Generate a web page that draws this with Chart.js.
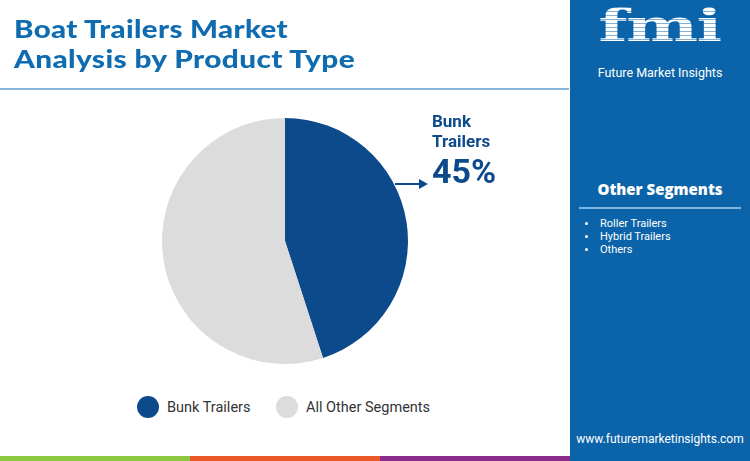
<!DOCTYPE html>
<html>
<head>
<meta charset="utf-8">
<script src="https://cdn.jsdelivr.net/npm/chart.js@4"></script>
<style>
  html,body{margin:0;padding:0;}
  body{width:750px;height:461px;position:relative;overflow:hidden;background:#fff;font-family:Roboto,"Open Sans",sans-serif;}
  .abs{position:absolute;}
  #title{left:14px;top:13px;color:#0f6cb1;font-family:Lato,"Open Sans",sans-serif;font-weight:900;font-size:25px;line-height:30px;white-space:nowrap;}
  #title span{display:block;transform-origin:left center;}
  #rule{left:0;top:88px;width:569px;height:2px;background:#86b5db;}
  #panel{left:570px;top:0;width:180px;height:461px;background:#0b64a9;}
  #chartBox{left:162px;top:118px;width:246px;height:246px;}
  #callout{left:432px;top:111px;color:#0d4a8c;font-weight:700;font-family:Roboto,sans-serif;}
  #callout .nm{font-size:17px;line-height:20px;}
  #callout .pc{font-size:34px;line-height:40px;margin-top:0px;}
  #arrowLine{left:395px;top:183px;width:26px;height:2px;background:#0d4a8c;}
  #arrowHead{left:419px;top:178.5px;width:0;height:0;border-top:5.5px solid transparent;border-bottom:5.5px solid transparent;border-left:9px solid #0d4a8c;}
  .lg{position:absolute;top:396px;height:22px;display:flex;align-items:center;font-size:14.5px;color:#333;font-family:Roboto,sans-serif;white-space:nowrap;}
  .lg .dot{width:22px;height:22px;border-radius:50%;margin-right:8px;}
  #bars div{position:absolute;top:456px;height:5px;}
  #logo{left:570px;top:0;width:180px;height:90px;text-align:center;}
  #fmiWrap{position:absolute;left:0;top:0;width:180px;text-align:center;}
  #fmi{display:inline-block;transform:scaleX(1.55);transform-origin:center;font-family:"DejaVu Serif",serif;font-weight:700;font-size:44px;line-height:52px;letter-spacing:-1px;color:transparent;
    background:repeating-linear-gradient(to bottom,#fff 0px,#fff 3px,rgba(255,255,255,0.5) 3px,rgba(255,255,255,0.5) 4px);-webkit-background-clip:text;background-clip:text;}
  #fmiName{position:absolute;left:0;top:65px;width:180px;text-align:center;color:#fff;font-family:Roboto,sans-serif;font-size:12.5px;line-height:15px;}
  #osTitle{left:570px;top:178px;width:180px;text-align:center;color:#fff;font-family:"Open Sans",sans-serif;font-weight:800;font-size:15px;line-height:22px;}
  #osRule{left:579px;top:207px;width:162px;height:2px;background:#7fb6df;}
  #osList{left:584px;top:217px;color:#fff;font-family:Roboto,sans-serif;font-size:11px;line-height:13px;}
  #osList div{position:relative;padding-left:16px;}
  #osList div:before{content:"";position:absolute;left:1px;top:5px;width:3px;height:3px;border-radius:50%;background:#fff;}
  #site{left:570px;top:432px;width:180px;text-align:center;color:#fff;font-family:Roboto,sans-serif;font-size:12px;}
</style>
</head>
<body>
<script>
const categories = ['Bunk Trailers', 'All Other Segments'];
const shares = [45, 55];
const sliceColors = ['#0c4a8b', '#dcdcdc'];
const titleLines = ['Boat Trailers Market', 'Analysis by Product Type'];
const otherSegments = ['Roller Trailers', 'Hybrid Trailers', 'Others'];
const barColors = ['#8dc63f', '#e9592a', '#8a2d8a'];
</script>

<div id="panel" class="abs"></div>
<div id="title" class="abs"></div>
<div id="rule" class="abs"></div>
<div id="chartBox" class="abs"><canvas id="c"></canvas></div>
<div id="arrowLine" class="abs"></div>
<div id="arrowHead" class="abs"></div>
<div id="callout" class="abs"><div class="nm" id="cName"></div><div class="pc" id="cPct"></div></div>
<div id="legend"></div>
<div id="bars"></div>
<div id="logo" class="abs"><div id="fmiWrap"><span id="fmi">fmi</span></div><div id="fmiName">Future Market Insights</div></div>
<div id="osTitle" class="abs">Other Segments</div>
<div id="osRule" class="abs"></div>
<div id="osList" class="abs"></div>
<div id="site" class="abs">www.futuremarketinsights.com</div>

<script>
const titleEl = document.getElementById('title');
const titleTargets = [274, 341];
titleLines.forEach((t) => {
  const s = document.createElement('span');
  s.textContent = t;
  titleEl.appendChild(s);
});
// stretch each title line horizontally to the reference width
Array.from(titleEl.children).forEach((s, i) => {
  s.style.display = 'inline-block';
  const w = s.getBoundingClientRect().width;
  s.style.letterSpacing = '0.3px';
  const w2 = s.getBoundingClientRect().width;
  s.style.transform = 'scaleX(' + (titleTargets[i] / w2) + ')';
  s.style.display = 'block';
});

document.getElementById('cName').innerHTML = categories[0].replace(' ', '<br>');
document.getElementById('cPct').textContent = shares[0] + '%';

const legendX = [137, 276];
const lg = document.getElementById('legend');
categories.forEach((c, i) => {
  const d = document.createElement('div');
  d.className = 'lg';
  d.style.left = legendX[i] + 'px';
  d.innerHTML = '<span class="dot" style="background:' + sliceColors[i] + '"></span>' + c;
  lg.appendChild(d);
});

const ol = document.getElementById('osList');
otherSegments.forEach(s => { const d = document.createElement('div'); d.textContent = s; ol.appendChild(d); });

const bars = document.getElementById('bars');
barColors.forEach((col, i) => {
  const d = document.createElement('div');
  d.style.left = (i * 190) + 'px';
  d.style.width = '190px';
  d.style.background = col;
  bars.appendChild(d);
});

new Chart(document.getElementById('c'), {
  type: 'pie',
  data: {
    labels: categories,
    datasets: [{
      data: shares,
      backgroundColor: sliceColors,
      borderWidth: 0,
      hoverOffset: 0
    }]
  },
  options: {
    responsive: true,
    maintainAspectRatio: false,
    animation: false,
    layout: { padding: 0 },
    plugins: { legend: { display: false }, tooltip: { enabled: false } }
  }
});
</script>
</body>
</html>
